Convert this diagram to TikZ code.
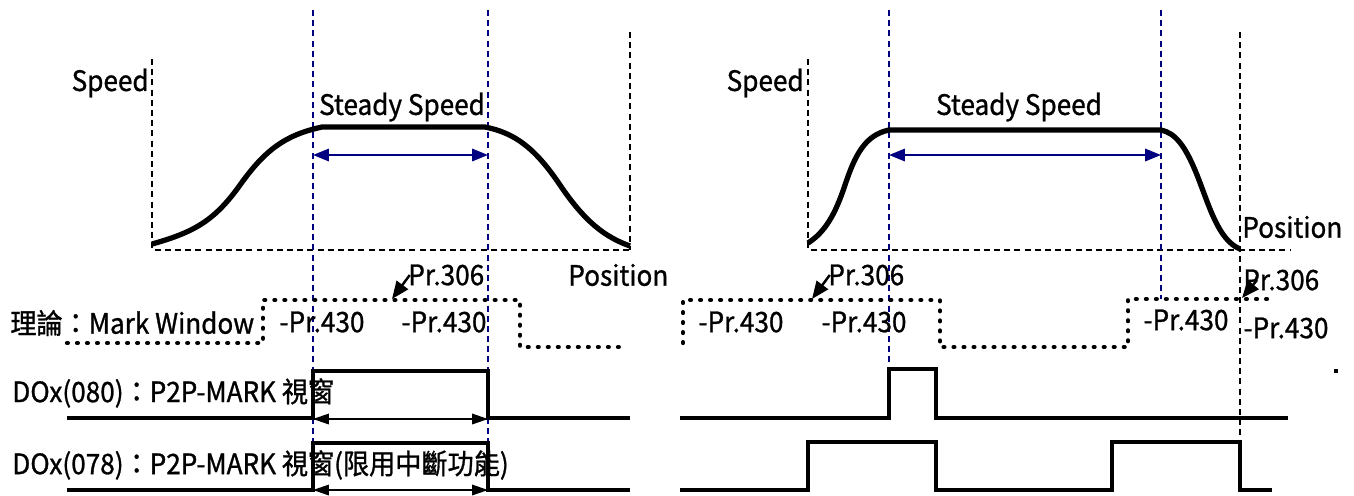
\documentclass[tikz,border=0pt]{standalone}
\usepackage{fontspec}
\setmainfont{Noto Sans CJK TC}[FakeStretch=0.93, FakeBold=1]
\usepackage{tikz}
\usetikzlibrary{arrows.meta}
\usepackage{xcolor}
\definecolor{guideblue}{RGB}{0,0,128}
\tikzstyle{lbl} = [inner sep=0pt, font=\fontsize{16}{18}\selectfont]
\tikzstyle{curve} = [line width=3pt, line join=round]
\tikzstyle{sig} = [line width=2.3pt, line join=miter]
\tikzstyle{guide} = [line width=0.75pt, dash pattern=on 3.4pt off 2.4pt]
\tikzstyle{bguide} = [line width=0.6pt, dash pattern=on 3.4pt off 2.4pt, draw=guideblue]
\tikzstyle{win} = [line width=2.4pt, line cap=round, dash pattern=on 0.5pt off 5.2pt]
\tikzstyle{barrow} = [draw=guideblue, line width=1.2pt, {Triangle[length=9pt,width=7pt]}-{Triangle[length=9pt,width=7pt]}]
\tikzstyle{darrow} = [line width=0.8pt, {Triangle[length=9pt,width=6pt]}-{Triangle[length=9pt,width=6pt]}]
\tikzstyle{parrow} = [line width=1.4pt, -{Triangle[length=10pt,width=8pt]}]

\begin{document}
\begin{tikzpicture}[x=0.02cm, y=-0.02cm]
  \useasboundingbox (0,0) rectangle (1354,495);

  % left panel: speed profile
  \draw[guide] (152,59) -- (152,250) -- (630,250);
  \draw[guide] (630,32) -- (630,250);
  \draw[bguide] (313,10) -- (313,442);
  \draw[bguide] (488,10) -- (488,442);
  \draw[curve] (152,244) .. controls (195,232) and (215,220) .. (240,185)
    .. controls (265,150) and (285,135) .. (322,127) -- (485,127)
    .. controls (515,133) and (535,148) .. (560,185)
    .. controls (585,222) and (605,237) .. (630,246);
  \coordinate (bl1) at (313,155);
  \coordinate (br1) at (488,155);
  \draw[barrow] (bl1) -- (br1);

  \node[lbl, anchor=east] (speedA) at (149,83) {Speed};
  \node[lbl] (steadyA) at (402,107) {Steady Speed};
  \node[lbl, anchor=west] (posA) at (568,275) {Position};
  \node[lbl, anchor=west] (p306A) at (408,275) {Pr.306};
  \node[lbl] (p430A) at (322,322) {-Pr.430};
  \node[lbl] (p430B) at (444,322) {-Pr.430};
  \coordinate (tipA) at (392,299);
  \draw[parrow] ([xshift=1pt]p306A.west) -- (tipA);

  % left panel: mark window and outputs
  \draw[win] (67,343) -- (263,343) -- (263,300) -- (520,300) -- (520,347) -- (627,347);
  \node[lbl, anchor=west] (markwin) at (10,323) {理論：Mark Window};
  \node[lbl, anchor=west] (do80) at (12,393) {DOx(080)：P2P-MARK 視窗};
  \node[lbl, anchor=west] (do78) at (12,465) {DOx(078)：P2P-MARK 視窗(限用中斷功能)};
  \draw[sig] (67,418) -- (313,418) -- (313,371) -- (488,371) -- (488,418) -- (630,418);
  \draw[sig] (67,490) -- (313,490) -- (313,443) -- (488,443) -- (488,490) -- (630,490);
  \coordinate (al1) at (313,419);
  \coordinate (ar1) at (488,419);
  \coordinate (al2) at (313,490);
  \coordinate (ar2) at (488,490);
  \draw[darrow] (al1) -- (ar1);
  \draw[darrow] (al2) -- (ar2);

  % right panel: speed profile
  \draw[guide] (808,59) -- (808,250) -- (1290,250);
  \draw[guide] (1240,32) -- (1240,442);
  \draw[bguide] (889,10) -- (889,369);
  \draw[bguide] (1161,10) -- (1161,299);
  \draw[curve] (808,243) .. controls (825,232) and (835,215) .. (845,185)
    .. controls (855,155) and (865,135) .. (889,130) -- (1161,130)
    .. controls (1175,133) and (1185,145) .. (1197,175)
    .. controls (1209,205) and (1218,240) .. (1240,249);
  \coordinate (bl2) at (889,155);
  \coordinate (br2) at (1161,155);
  \draw[barrow] (bl2) -- (br2);

  \node[lbl, anchor=east] (speedB) at (804,83) {Speed};
  \node[lbl] (steadyB) at (1019,107) {Steady Speed};
  \node[lbl, anchor=west] (posB) at (1242,227) {Position};
  \node[lbl, anchor=west] (p306B) at (828,275) {Pr.306};
  \node[lbl, anchor=west] (p306C) at (1243,280) {Pr.306};
  \node[lbl] (p430C) at (741,322) {-Pr.430};
  \node[lbl] (p430D) at (864,322) {-Pr.430};
  \node[lbl] (p430E) at (1186,320) {-Pr.430};
  \node[lbl] (p430F) at (1286,328) {-Pr.430};
  \coordinate (tipB) at (812,299);
  \coordinate (tipC) at (1242,298);
  \draw[parrow] ([xshift=1pt]p306B.west) -- (tipB);
  \draw[parrow] ([xshift=8pt]p306C.west) -- (tipC);

  % right panel: mark window and outputs
  \draw[win] (683,343) -- (683,300) -- (940,300) -- (940,347) -- (1128,347) -- (1128,299) -- (1268,299);
  \draw[sig] (680,418) -- (889,418) -- (889,369) -- (936,369) -- (936,418) -- (1288,418);
  \draw[sig] (680,490) -- (808,490) -- (808,442) -- (936,442) -- (936,490) -- (1112,490)
    -- (1112,442) -- (1240,442) -- (1240,490) -- (1272,490);
  \fill (1334,369) rectangle (1338,373);
\end{tikzpicture}
\end{document}
